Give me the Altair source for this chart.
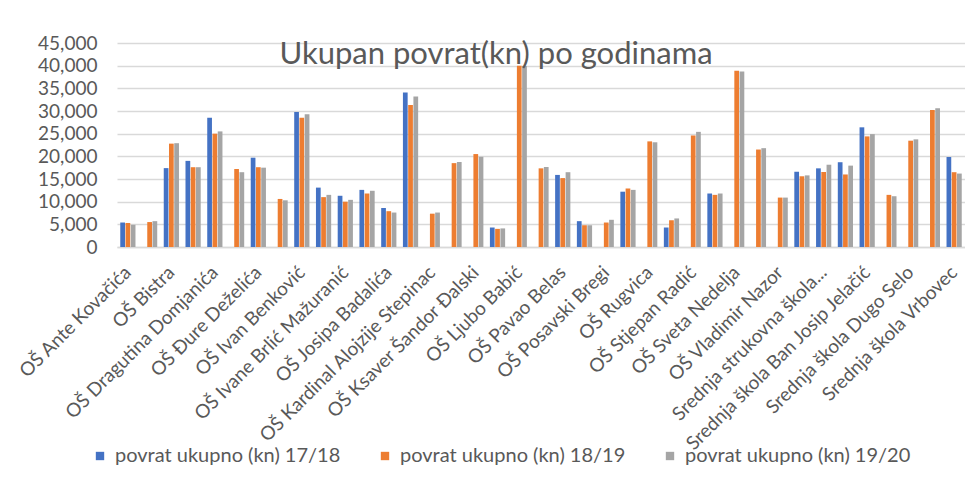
import altair as alt
import pandas as pd

schools = [
    "OŠ Ante Kovačića",
    "OŠ Antun Augustinčić",
    "OŠ Bistra",
    "OŠ Brdovec",
    "OŠ Dragutina Domjanića",
    "OŠ Dragutina Tadijanovića",
    "OŠ Đure Deželića",
    "OŠ Eugena Kumičića",
    "OŠ Ivan Benković",
    "OŠ Ivana Gorana Kovačića",
    "OŠ Ivane Brlić Mažuranić",
    "OŠ Janka Leskovara",
    "OŠ Josipa Badalića",
    "OŠ Josipa Zorića",
    "OŠ Kardinal Alojzije Stepinac",
    "OŠ Klinča Sela",
    "OŠ Ksaver Šandor Đalski",
    "OŠ Lekenik",
    "OŠ Ljubo Babić",
    "OŠ Marija Jurić Zagorka",
    "OŠ Pavao Belas",
    "OŠ Pokupsko",
    "OŠ Posavski Bregi",
    "OŠ Rude",
    "OŠ Rugvica",
    "OŠ Samobor",
    "OŠ Stjepan Radić",
    "OŠ Stubičke Toplice",
    "OŠ Sveta Nedelja",
    "OŠ Velika Mlaka",
    "OŠ Vladimir Nazor",
    "Srednja glazbena škola",
    "Srednja strukovna škola...",
    "Srednja škola Andrije Ljudevita Adamića",
    "Srednja škola Ban Josip Jelačić",
    "Srednja škola Bedekovčina",
    "Srednja škola Dugo Selo",
    "Srednja škola Jastrebarsko",
    "Srednja škola Vrbovec",
]
labeled = schools[::2]

series = ["povrat ukupno (kn) 17/18", "povrat ukupno (kn) 18/19", "povrat ukupno (kn) 19/20"]
colors = ["#4472C4", "#ED7D31", "#A5A5A5"]

s1718 = [5400, None, 17400, 19000, 28500, None, 19700, None, 29800, 13100,
         11300, 12600, 8600, 34100, None, None, None, 4300, None, None,
         15900, 5700, None, 12200, None, 4300, None, 11800, None, None,
         None, 16600, 17350, 18700, 26400, None, None, None, 19850]
s1819 = [5300, 5500, 22800, 17600, 25000, 17200, 17600, 10600, 28500, 11000,
         10000, 11800, 7900, 31300, 7350, 18500, 20500, 4000, 40000, 17350,
         15200, 4800, 5400, 12900, 23300, 5900, 24600, 11500, 38900, 21500,
         10900, 15600, 16550, 16000, 24400, 11500, 23450, 30200, 16500]
s1920 = [4900, 5700, 22900, 17600, 25500, 16500, 17500, 10300, 29300, 11500,
         10400, 12400, 7600, 33200, 7600, 18750, 19900, 4100, 39900, 17650,
         16500, 4800, 6000, 12600, 23100, 6300, 25400, 11800, 38700, 21800,
         10900, 15800, 18150, 17950, 24900, 11200, 23750, 30600, 16200]

y_ticks = list(range(0, 45001, 5000))

rows = []
for i, s in enumerate(schools):
    for name, vals in zip(series, [s1718, s1819, s1920]):
        v = vals[i]
        if v is not None:
            rows.append({"škola": s, "serija": name, "iznos": v})
df = pd.DataFrame(rows)

FONT = "Lato"
TXT = "#595959"

chart = alt.Chart(df).mark_bar().encode(
    x=alt.X(
        "škola:N",
        sort=schools,
        scale=alt.Scale(domain=schools, paddingInner=0.3, paddingOuter=0.15),
        axis=alt.Axis(
            values=labeled, title=None, labelAngle=-45, labelAlign="right",
            labelBaseline="middle", labelPadding=22, ticks=False,
            domainColor="#d9d9d9", domainWidth=1.5, labelFont=FONT, labelFontSize=19,
            labelColor=TXT, labelLimit=500, labelOverlap=False, grid=False,
        ),
    ),
    xOffset=alt.XOffset("serija:N", sort=series, scale=alt.Scale(domain=series, paddingInner=0.1)),
    y=alt.Y(
        "iznos:Q",
        scale=alt.Scale(domain=[0, 45000], nice=False),
        axis=alt.Axis(
            values=y_ticks, format=",d", title=None, ticks=False, domain=False,
            gridColor="#d9d9d9", gridWidth=1.5, labelPadding=20, labelFont=FONT,
            labelFontSize=19, labelColor=TXT,
        ),
    ),
    color=alt.Color(
        "serija:N",
        sort=series,
        scale=alt.Scale(domain=series, range=colors),
        legend=alt.Legend(
            title=None, orient="none", legendX=-27, legendY=403, direction="horizontal",
            symbolType="square", symbolSize=70, symbolStrokeWidth=0, labelFont=FONT,
            labelFontSize=20, labelColor=TXT, columnPadding=34, labelOffset=5,
            labelLimit=400,
        ),
    ),
).properties(
    width=848,
    height=204,
    title=alt.TitleParams(
        "Ukupan povrat(kn) po godinama", font=FONT, fontSize=31, fontWeight="normal",
        color=TXT, anchor="middle", dx=-45, dy=61, baseline="alphabetic", offset=0,
    ),
    autosize=alt.AutoSizeParams(type="none"),
    padding={"left": 109, "top": 35, "right": 0, "bottom": 220},
).configure_view(stroke=None)

chart.save("out.html", embed_options={"renderer": "svg", "actions": False})
